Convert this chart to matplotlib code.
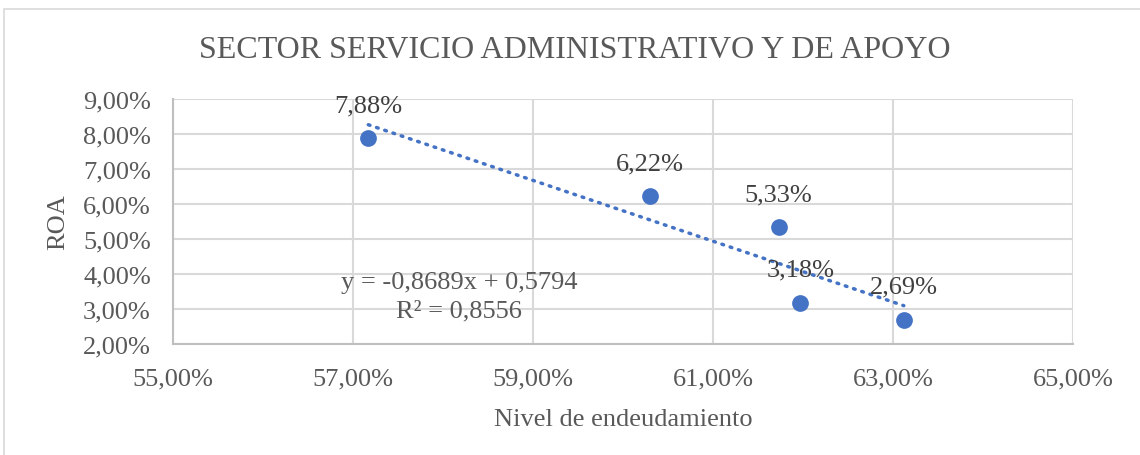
import matplotlib
matplotlib.use('Agg')
import matplotlib.pyplot as plt
from matplotlib.patches import Rectangle
from matplotlib.ticker import FuncFormatter, MultipleLocator

plt.rcParams['font.family'] = ['Liberation Serif', 'DejaVu Serif']

# datos
nivel = [57.17, 60.30, 61.73, 61.97, 63.12]   # Nivel de endeudamiento (%)
roa = [7.88, 6.22, 5.33, 3.18, 2.69]          # ROA (%)
etiquetas = ['7,88%', '6,22%', '5,33%', '3,18%', '2,69%']
ticks_x = [55, 57, 59, 61, 63, 65]
pendiente = -0.8689
intercepto = 0.5794
ecuacion = 'y = -0,8689x + 0,5794'
r2_txt = 'R² = 0,8556'

azul = '#4472C4'
gris_txt = '#595959'

fig = plt.figure(figsize=(11.4, 4.56), dpi=100)
# marco exterior del gráfico
fig.patches.append(Rectangle((4 / 1140, -0.2), 1.2, 1.2 - 10 / 456,
                             transform=fig.transFigure, fill=False,
                             edgecolor='#d9d9d9', lw=1.2))

ax = fig.add_axes([173 / 1140, 1 - 345 / 456, 900 / 1140, 245 / 456])
ax.set_xlim(55, 65)
ax.set_ylim(2, 9)
ax.set_xticks(ticks_x)
ax.yaxis.set_major_locator(MultipleLocator(1))
fmt = FuncFormatter(lambda v, p: ('%.2f%%' % v).replace('.', ','))
ax.xaxis.set_major_formatter(fmt)
ax.yaxis.set_major_formatter(fmt)
ax.grid(True, color='#d9d9d9', lw=1.5)
ax.set_axisbelow(True)
for s in ['top', 'right']:
    ax.spines[s].set_visible(False)
for s in ['left', 'bottom']:
    ax.spines[s].set_color('#bfbfbf')
    ax.spines[s].set_linewidth(1.5)
ax.tick_params(length=0, labelsize=19, labelcolor=gris_txt)
ax.tick_params(axis='y', pad=16)
ax.tick_params(axis='x', pad=17)

# línea de tendencia
x0, x1 = min(nivel), max(nivel)
ax.plot([x0, x1], [(pendiente * x0 / 100 + intercepto) * 100,
                   (pendiente * x1 / 100 + intercepto) * 100],
        color=azul, lw=2.5, ls=(0, (0.5, 2.0)), dash_capstyle='round', zorder=2)

ax.scatter(nivel, roa, s=145, color=azul, zorder=3, linewidths=0)

for xv, yv, t in zip(nivel, roa, etiquetas):
    ax.annotate(t, (xv, yv), xytext=(0, 33), textcoords='offset pixels',
                ha='center', va='center', fontsize=19, color='#404040', zorder=4)

ax.text(58.18, 3.77, ecuacion, ha='center', va='center', fontsize=19, color=gris_txt)
ax.text(58.18, 2.97, r2_txt, ha='center', va='center', fontsize=19, color=gris_txt)

ax.set_xlabel('Nivel de endeudamiento', fontsize=19, color=gris_txt, labelpad=13)
ax.set_ylabel('ROA', fontsize=19, color=gris_txt, labelpad=10)

fig.text(575 / 1140, 1 - 50 / 456, 'SECTOR SERVICIO ADMINISTRATIVO Y DE APOYO',
         ha='center', va='center', fontsize=23, color=gris_txt)

fig.savefig('out.png', dpi=100)
